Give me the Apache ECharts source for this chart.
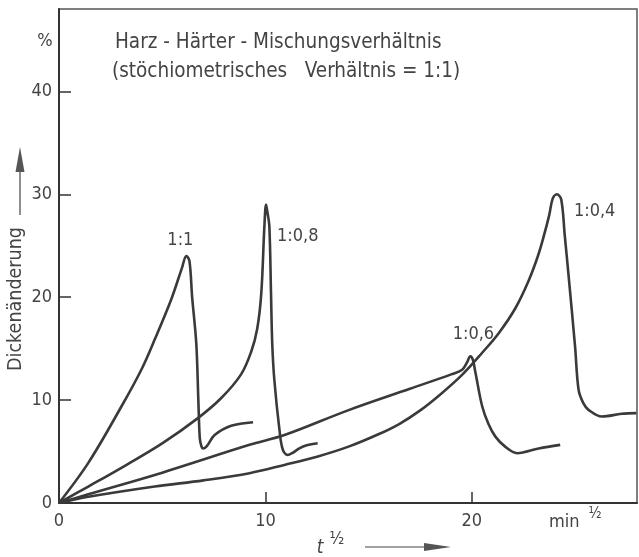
<!DOCTYPE html>
<html><head><meta charset="utf-8">
<script src="https://cdn.jsdelivr.net/npm/echarts@6/dist/echarts.min.js"></script>
<style>html,body{margin:0;padding:0;background:#fff}#c{width:639px;height:557px}</style>
</head><body><div id="c"></div>
<script>
// ---- data ----
const xTickValues = [10, 20];
const xLabelValues = [0, 10, 20];
const yTickValues = [10, 20, 30, 40];
const yLabelValues = [0, 10, 20, 30, 40];
const seriesNames = ['1:1', '1:0,8', '1:0,6', '1:0,4'];

const x11 = [0, 1.42, 3.03, 4.0, 4.64, 5.44, 5.95, 6.17, 6.32, 6.45, 6.65, 6.75, 6.82, 6.9, 6.97, 7.15, 7.54, 8.34, 9.4];
const y11 = [0, 3.9, 9.4, 13.0, 15.9, 19.8, 22.8, 24.0, 23.5, 20.0, 15.5, 10.0, 6.3, 5.5, 5.3, 5.5, 6.6, 7.5, 7.85];

const x08 = [0, 1.42, 3.0, 5.0, 6.73, 7.86, 8.82, 9.31, 9.6, 9.8, 9.95, 10.03, 10.1, 10.19, 10.27, 10.33, 10.43, 10.68, 10.84, 11.08, 11.3, 11.64, 12.0, 12.53];
const y08 = [0, 1.6, 3.4, 5.8, 8.25, 10.2, 12.5, 14.7, 16.9, 20.4, 26.9, 29.0, 28.2, 26.9, 20.4, 15.5, 12.0, 7.1, 5.2, 4.67, 4.85, 5.3, 5.6, 5.8];

const x06 = [0, 1.42, 5.0, 9.23, 10.92, 14.0, 17.0, 19.0, 19.53, 19.75, 19.93, 20.05, 20.18, 20.5, 20.8, 21.14, 21.6, 22.19, 23.24, 24.28];
const y06 = [0, 0.85, 2.95, 5.65, 6.6, 9.0, 11.1, 12.5, 12.95, 13.6, 14.25, 13.9, 12.6, 9.4, 7.7, 6.45, 5.5, 4.84, 5.3, 5.65];

const x04 = [0, 1.42, 4.64, 7.0, 9.23, 10.92, 12.5, 14.06, 15.5, 16.5, 17.5, 18.5, 19.5, 20.5, 21.3, 22.1, 22.75, 23.2, 23.48, 23.75, 23.92, 24.12, 24.33, 24.5, 24.69, 25.0, 25.17, 25.4, 25.65, 26.3, 27.26, 27.97];
const y04 = [0, 0.6, 1.6, 2.2, 2.9, 3.7, 4.5, 5.5, 6.7, 7.7, 9.0, 10.6, 12.4, 14.6, 16.5, 18.9, 21.6, 24.0, 25.9, 28.0, 29.6, 30.0, 29.5, 26.0, 22.0, 15.2, 11.0, 9.7, 9.05, 8.4, 8.67, 8.73];

const peakIndex = [7, 11, 10, 21];
const labelPos = ['top', 'right', 'top', 'right'];
const labelOffset = [[-6, -2], [6, 32], [3, -8], [12, 17]];

// ---- chart ----
const FONT = "'DejaVu Sans Condensed', 'Liberation Sans Narrow', 'DejaVu Sans', sans-serif";
const TXT = '#444';
const LINE = '#3a3a3a';
const xs = [x11, x08, x06, x04];
const ys = [y11, y08, y06, y04];

function build(k) {
  return xs[k].map((x, i) => {
    const item = { value: [x, ys[k][i]] };
    if (i === peakIndex[k]) {
      item.label = {
        show: true, formatter: seriesNames[k], position: labelPos[k], offset: labelOffset[k],
        fontFamily: FONT, fontSize: 18, color: TXT
      };
    }
    return item;
  });
}

const chart = echarts.init(document.getElementById('c'), null, { renderer: 'canvas' });
chart.setOption({
  animation: false,
  backgroundColor: '#fff',
  grid: { left: 59, right: 2, top: 9, bottom: 54, show: true, borderColor: '#555', borderWidth: 1.5 },
  xAxis: {
    type: 'value', min: 0, max: 28, interval: 10,
    splitLine: { show: false },
    axisLine: { lineStyle: { color: '#333', width: 2 } },
    axisTick: { inside: true, length: 11, customValues: xTickValues, lineStyle: { color: '#333', width: 1.5 } },
    axisLabel: { customValues: xLabelValues, margin: 9, fontFamily: FONT, fontSize: 18, color: TXT }
  },
  yAxis: {
    type: 'value', min: 0, max: 48, interval: 10,
    splitLine: { show: false },
    axisLine: { lineStyle: { color: '#333', width: 2 } },
    axisTick: { inside: true, length: 12, customValues: yTickValues, lineStyle: { color: '#333', width: 1.5 } },
    axisLabel: { customValues: yLabelValues, margin: 7, fontFamily: FONT, fontSize: 18, color: TXT }
  },
  series: seriesNames.map((n, k) => ({
    name: n, type: 'line', data: build(k), showSymbol: true, symbol: 'circle', symbolSize: 0,
    smooth: 0.35,
    itemStyle: { color: LINE },
    lineStyle: { color: LINE, width: 2.6 }, silent: true
  })),
  graphic: [
    { type: 'text', x: 45, y: 41, style: { text: '%', font: '18px ' + FONT, fill: TXT, align: 'center', verticalAlign: 'middle' } },
    { type: 'text', x: 115, y: 43, style: { text: 'Harz - Härter - Mischungsverhältnis', font: '20.5px ' + FONT, fill: TXT, align: 'left', verticalAlign: 'middle' } },
    { type: 'text', x: 112, y: 72, style: { text: '(stöchiometrisches   Verhältnis = 1:1)', font: '20.5px ' + FONT, fill: TXT, align: 'left', verticalAlign: 'middle' } },
    { type: 'text', x: 16, y: 299, rotation: Math.PI / 2, style: { text: 'Dickenänderung', font: '19.5px ' + FONT, fill: TXT, align: 'center', verticalAlign: 'middle' } },
    { type: 'line', shape: { x1: 20, y1: 215, x2: 20, y2: 168 }, style: { stroke: '#444', lineWidth: 1.2 } },
    { type: 'polygon', shape: { points: [[20, 147], [15.5, 172], [24.5, 172]] }, style: { fill: '#555' } },
    { type: 'text', x: 320, y: 548, style: { text: 't', font: 'italic 19px ' + FONT, fill: TXT, align: 'center', verticalAlign: 'middle' } },
    { type: 'text', x: 337, y: 540, style: { text: '½', font: '17px ' + FONT, fill: TXT, align: 'center', verticalAlign: 'middle' } },
    { type: 'line', shape: { x1: 365, y1: 547, x2: 426, y2: 547 }, style: { stroke: '#444', lineWidth: 1.2 } },
    { type: 'polygon', shape: { points: [[451, 547], [424, 543], [424, 551]] }, style: { fill: '#555' } },
    { type: 'text', x: 549, y: 522, style: { text: 'min', font: '18px ' + FONT, fill: TXT, align: 'left', verticalAlign: 'middle' } },
    { type: 'text', x: 595, y: 514, style: { text: '½', font: '15px ' + FONT, fill: TXT, align: 'center', verticalAlign: 'middle' } }
  ]
});
</script></body></html>
